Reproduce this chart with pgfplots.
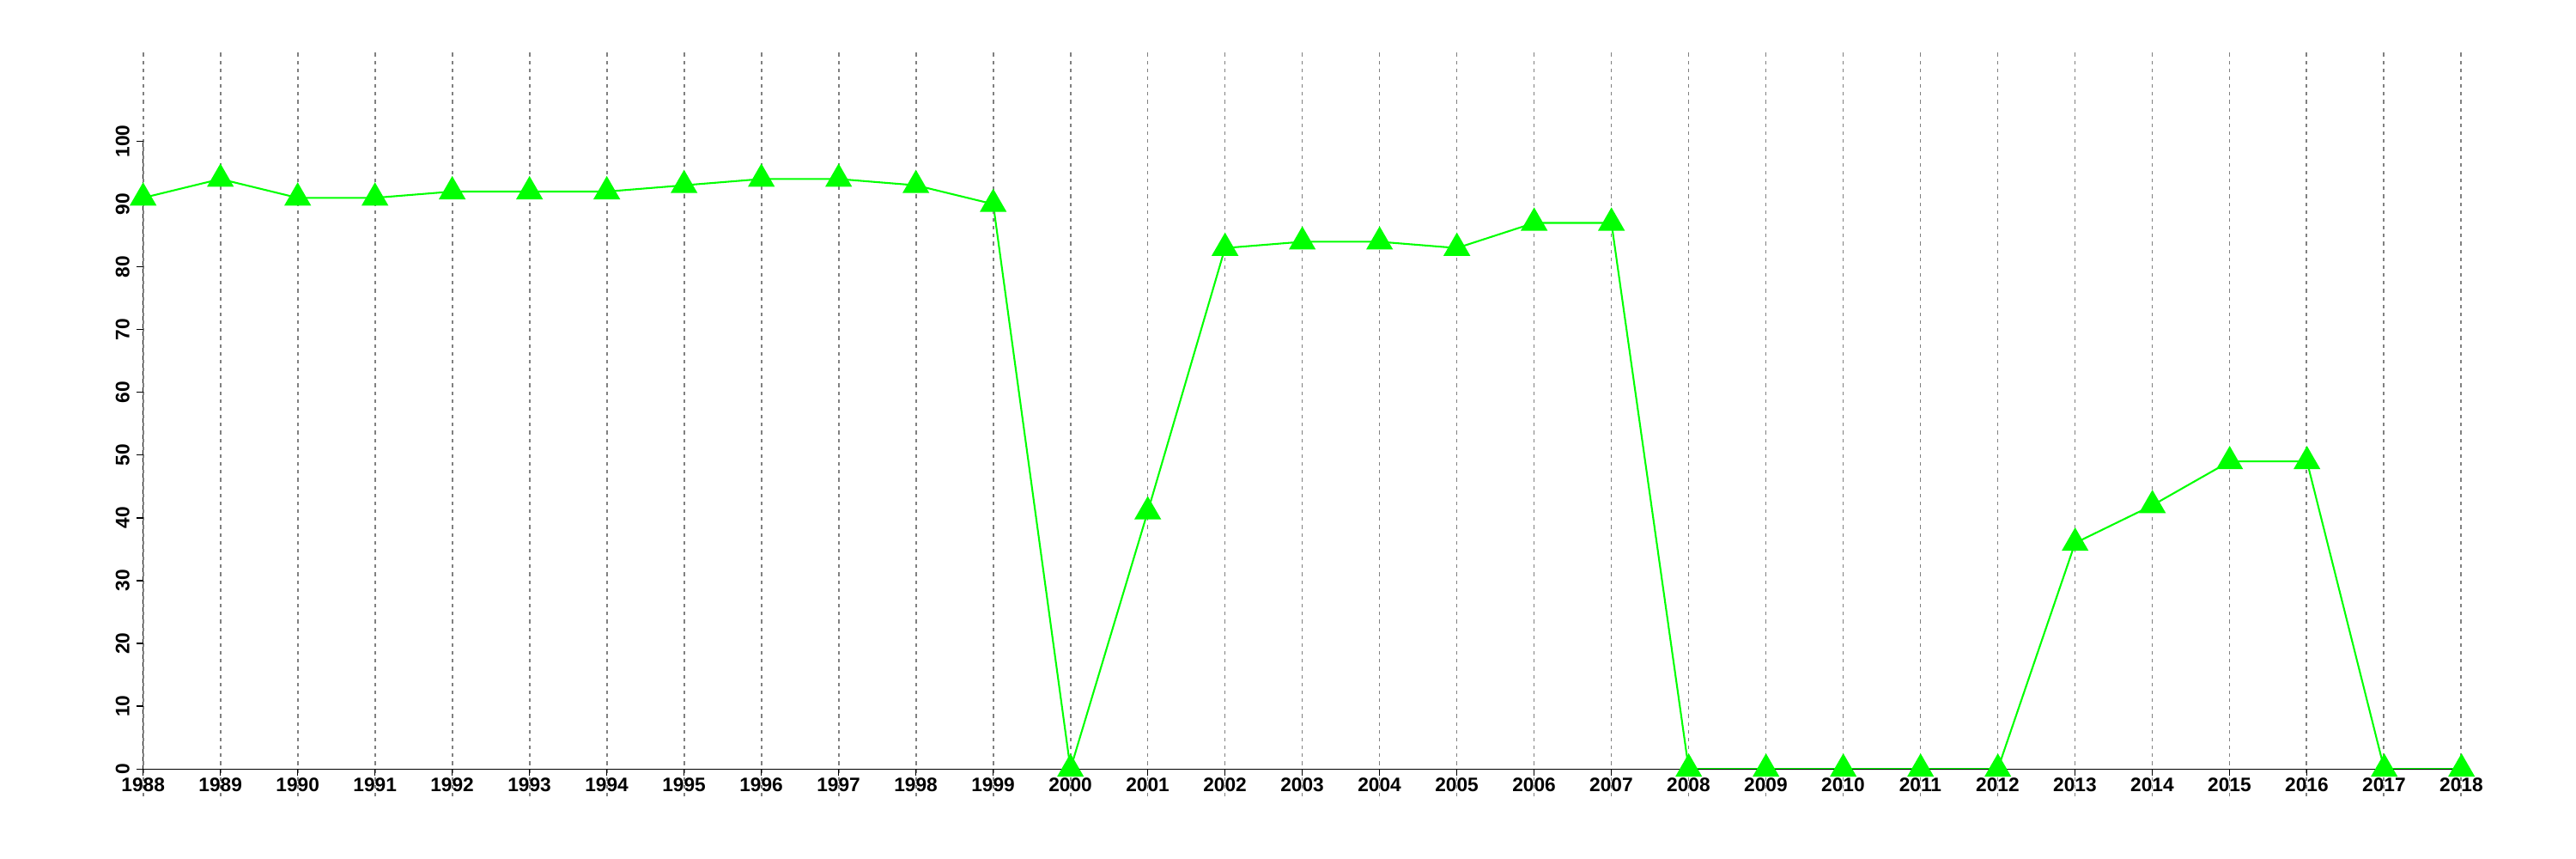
\documentclass[border=0pt]{standalone}
\usepackage{fontspec}
\setmainfont{Liberation Sans}
\usepackage{pgfplots}
\pgfplotsset{compat=1.18}
\definecolor{lgreen}{RGB}{0,255,0}
\definecolor{gridgray}{RGB}{128,128,128}
\begin{document}
\begin{tikzpicture}[x=1pt,y=1pt]
\useasboundingbox (0,0) rectangle (720,240);
\begin{axis}[
  at={(40pt,17.45pt)}, anchor=south west,
  scale only axis, width=648pt, height=208.3pt,
  xmin=1988, xmax=2018, ymin=-4.4, ymax=114.4,
  axis x line=middle, axis y line=left,
  every inner x axis line/.append style={-},
  every outer y axis line/.append style={-},
  x axis line style={-, line width=0.3pt, black},
  y axis line style={draw=none},
  hide obscured x ticks=false, hide obscured y ticks=false,
  xtick={1988,1989,...,2018},
  ytick={0,10,...,100},
  tick align=outside,
  major tick length=1.9pt,
  tick style={black, line width=0.3pt},
  xmajorgrids, ymajorgrids=false,
  major grid style={gridgray, line width=0.45pt, dash pattern=on 1pt off 1.2pt},
  /pgf/number format/1000 sep={},
  /pgf/number format/assume math mode=true,
  xticklabel style={font=\fontsize{5.45}{6}\selectfont\bfseries, inner sep=0pt, anchor=north},
  yticklabel style={font=\fontsize{5.45}{6}\selectfont\bfseries, inner sep=0pt, rotate=90, anchor=south},
  xticklabel shift=0.5pt,
  yticklabel shift=1.7pt,
  axis on top,
  clip=false,
]
\addplot[lgreen, line width=0.5pt, mark=triangle*, mark size=3.84pt,
  mark options={draw=none, fill=lgreen}] coordinates {
(1988,91) (1989,94) (1990,91) (1991,91) (1992,92) (1993,92) (1994,92)
(1995,93) (1996,94) (1997,94) (1998,93) (1999,90) (2000,0) (2001,41)
(2002,83) (2003,84) (2004,84) (2005,83) (2006,87) (2007,87) (2008,0)
(2009,0) (2010,0) (2011,0) (2012,0) (2013,36) (2014,42) (2015,49)
(2016,49) (2017,0) (2018,0)
};
\draw[black, line width=0.3pt] (axis cs:1988,0) -- (axis cs:1988,100);
\end{axis}
\end{tikzpicture}
\end{document}
